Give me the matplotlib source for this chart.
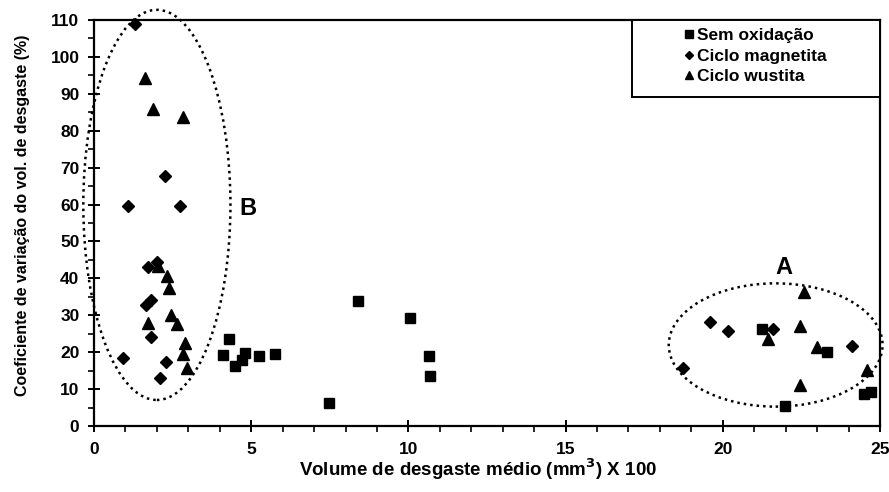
from matplotlib import pyplot as plt
from matplotlib.patches import Ellipse, Rectangle
from matplotlib.ticker import MultipleLocator
import numpy as np

## data: volume de desgaste (x) and coeficiente de variacao (y)
sem_x = [4.28, 4.10, 4.49, 4.70, 4.79, 5.25, 5.76, 7.49, 8.39, 10.04, 10.65, 10.68,
         21.24, 23.3, 21.97, 24.5, 24.7]
sem_y = [23.5, 19.3, 16.3, 17.9, 19.9, 19.1, 19.6, 6.1, 34.0, 29.3, 19.1, 13.6,
         26.3, 20.1, 5.5, 8.7, 9.3]

mag_x = [1.31, 1.07, 2.73, 2.26, 1.73, 2.00, 1.65, 1.82, 1.80, 0.91, 2.29, 2.10,
         19.6, 20.15, 18.72, 21.6, 24.1]
mag_y = [108.9, 59.7, 59.7, 67.8, 43.2, 44.5, 32.8, 34.1, 24.0, 18.3, 17.4, 12.9,
         28.3, 25.8, 15.6, 26.3, 21.7]

wus_x = [1.63, 1.87, 2.82, 2.02, 2.31, 2.37, 2.44, 2.65, 1.73, 2.88, 2.84, 2.97,
         22.57, 22.46, 21.44, 23.0, 22.46, 24.6]
wus_y = [94.3, 86.0, 83.6, 43.4, 40.6, 37.3, 30.1, 27.6, 28.0, 22.6, 19.5, 15.8,
         36.4, 27.1, 23.5, 21.5, 11.1, 15.2]

names = ['Sem oxidação', 'Ciclo magnetita', 'Ciclo wustita']

plt.rcParams['font.family'] = ['Liberation Sans', 'DejaVu Sans']
plt.rcParams['font.weight'] = 'bold'

fig = plt.figure(figsize=(8.89, 4.92), dpi=100)
ax = fig.add_axes([94/889, 1-426/492, 786/889, 406/492])

ax.plot(sem_x, sem_y, 's', color='black', markersize=7, label=names[0], clip_on=False, zorder=3)
ax.plot(mag_x, mag_y, 'D', color='black', markersize=6, label=names[1], clip_on=False, zorder=3)
ax.plot(wus_x, wus_y, '^', color='black', markersize=8, label=names[2], clip_on=False, zorder=3)

# groups A and B
dots = (0, (1, 1.6))
ax.add_patch(Ellipse((2.0, 59.9), 4.68, 105.7, fill=False, edgecolor='black',
                     linewidth=1.8, linestyle=dots, clip_on=False))
ax.add_patch(Ellipse((21.68, 21.95), 6.8, 33.4, fill=False, edgecolor='black',
                     linewidth=1.8, linestyle=dots, clip_on=False))
ax.text(4.9, 59, 'B', fontsize=17, fontweight='bold', ha='center', va='center')
ax.text(21.94, 43.0, 'A', fontsize=17, fontweight='bold', ha='center', va='center')

ax.set_xlim(0, 25)
ax.set_ylim(0, 110)
ax.xaxis.set_major_locator(MultipleLocator(5))
ax.xaxis.set_minor_locator(MultipleLocator(1))
ax.yaxis.set_major_locator(MultipleLocator(10))
ax.yaxis.set_minor_locator(MultipleLocator(5))

for s in ax.spines.values():
    s.set_linewidth(1.6)
ax.tick_params(which='major', direction='inout', length=9, width=1.4, labelsize=12.5)
ax.tick_params(which='minor', direction='out', length=4, width=1.2)
ax.tick_params(axis='x', which='major', pad=7)
ax.tick_params(axis='y', which='major', pad=6)

ax.set_xlabel('Volume de desgaste médio (mm$^3$) X 100', fontsize=13.5, fontweight='bold')
ax.set_ylabel('Coeficiente de variação do vol. de desgaste (%)', fontsize=11.5,
              fontweight='bold')
ax.xaxis.label.set_verticalalignment('baseline')
ax.xaxis.set_label_coords(0.4885, -0.123)
ax.yaxis.set_label_coords(-0.081, 0.52)

# legend box in the upper right corner
ax.add_patch(Rectangle((0.6845, 0.8103), 0.3155, 0.1897, transform=ax.transAxes,
                       facecolor='white', edgecolor='black', linewidth=1.4,
                       clip_on=False, zorder=4))
leg = ax.legend(loc='center left', bbox_to_anchor=(0.7506, 0.9113), frameon=False,
                borderaxespad=0, borderpad=0, handlelength=0.6, handletextpad=0.15,
                labelspacing=0.3, prop={'weight': 'bold', 'size': 12.5}, markerscale=0.75)
leg.set_zorder(5)

plt.savefig('out.png', dpi=100)
